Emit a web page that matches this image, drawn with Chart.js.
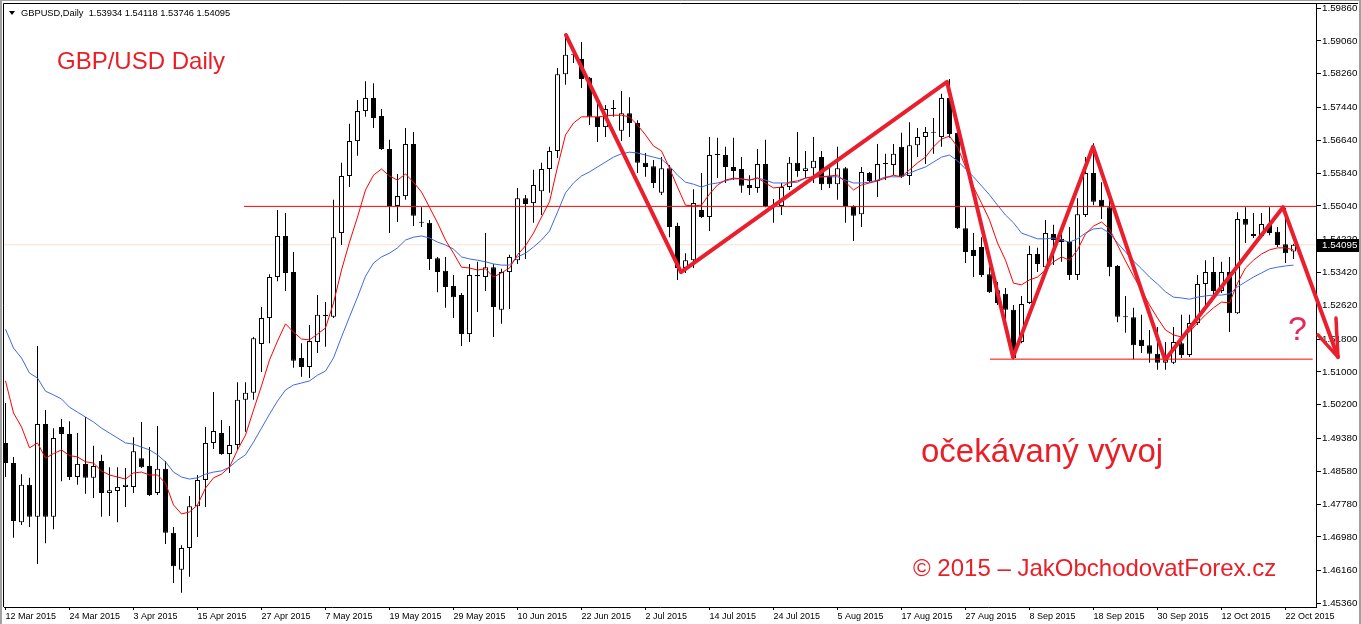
<!DOCTYPE html>
<html>
<head>
<meta charset="utf-8">
<title>GBPUSD Daily</title>
<script src="https://cdn.jsdelivr.net/npm/chart.js@4.4.1/dist/chart.umd.min.js"></script>
<style>
html,body{margin:0;padding:0;background:#fff;overflow:hidden;}
canvas{display:block;}
</style>
</head>
<body>
<canvas id="chart" width="1361" height="624"></canvas>
<script>
// ---------------- data ----------------
const symbolTitle = 'GBPUSD,Daily';
const headerValues = [1.53934, 1.54118, 1.53746, 1.54095];

const dateLabels = ['12 Mar 2015','24 Mar 2015','3 Apr 2015','15 Apr 2015','27 Apr 2015','7 May 2015',
  '19 May 2015','29 May 2015','10 Jun 2015','22 Jun 2015','2 Jul 2015','14 Jul 2015','24 Jul 2015',
  '5 Aug 2015','17 Aug 2015','27 Aug 2015','8 Sep 2015','18 Sep 2015','30 Sep 2015','12 Oct 2015','22 Oct 2015'];
const labelStep = 8; // one date label every 8 daily bars

const opens = [
  1.4927,1.4878,1.4734,1.4825,1.4747,1.4973,1.4747,1.4966,1.4949,1.4844,
  1.4876,1.4842,1.4883,1.4805,1.4810,1.4820,1.4820,1.4890,1.4871,1.4805,
  1.4864,1.4708,1.4618,1.4671,1.4773,1.4837,1.4927,1.4951,1.4900,1.4922,
  1.5032,1.5049,1.5168,1.5231,1.5331,1.5431,1.5343,1.5134,1.5112,1.5173,
  1.5236,1.5234,1.5438,1.5577,1.5662,1.5735,1.5767,1.5723,1.5643,1.5504,
  1.5528,1.5655,1.5465,1.5463,1.5377,1.5346,1.5309,1.5287,1.5192,1.5336,
  1.5331,1.5355,1.5251,1.5343,1.5372,1.5523,1.5511,1.5540,1.5594,1.5638,
  1.5825,1.5872,1.5862,1.5816,1.5721,1.5696,1.5740,1.5687,1.5730,1.5706,
  1.5609,1.5601,1.5536,1.5596,1.5455,1.5353,1.5372,1.5494,1.5477,1.5628,
  1.5628,1.5599,1.5594,1.5555,1.5548,1.5606,1.5506,1.5504,1.5550,1.5609,
  1.5589,1.5596,1.5623,1.5577,1.5557,1.5596,1.5504,1.5484,1.5584,1.5565,
  1.5606,1.5604,1.5648,1.5577,1.5652,1.5672,1.5684,1.5672,1.5767,1.5682,
  1.5450,1.5397,1.5404,1.5338,1.5299,1.5290,1.5251,1.5173,1.5268,1.5387,
  1.5355,1.5436,1.5424,1.5416,1.5336,1.5482,1.5584,1.5519,1.5501,1.5358,
  1.5234,1.5233,1.5178,1.5165,1.5144,1.5122,1.5122,1.5170,1.5141,1.5219,
  1.5314,1.5343,1.5297,1.5343,1.5243,1.5472,1.5436,1.5431,1.5460,1.5441,
  1.5411,1.53934];
const highs = [
  1.5024,1.4893,1.4851,1.4842,1.5163,1.5007,1.4963,1.4985,1.4980,1.4951,
  1.4990,1.4920,1.4898,1.4868,1.4868,1.4866,1.4941,1.4978,1.4917,1.4968,
  1.4883,1.4722,1.4678,1.4798,1.4849,1.4966,1.5051,1.4983,1.4968,1.5075,
  1.5075,1.5185,1.5258,1.5338,1.5494,1.5487,1.5392,1.5170,1.5214,1.5287,
  1.5270,1.5519,1.5609,1.5704,1.5762,1.5808,1.5803,1.5740,1.5665,1.5582,
  1.5694,1.5684,1.5501,1.5470,1.5380,1.5380,1.5336,1.5292,1.5363,1.5368,
  1.5438,1.5363,1.5351,1.5385,1.5548,1.5531,1.5592,1.5609,1.5648,1.5840,
  1.5920,1.5891,1.5903,1.5818,1.5764,1.5750,1.5762,1.5784,1.5769,1.5713,
  1.5633,1.5616,1.5623,1.5604,1.5463,1.5389,1.5545,1.5584,1.5672,1.5670,
  1.5648,1.5670,1.5623,1.5579,1.5643,1.5665,1.5521,1.5560,1.5623,1.5684,
  1.5638,1.5672,1.5638,1.5599,1.5648,1.5599,1.5506,1.5599,1.5587,1.5655,
  1.5631,1.5655,1.5682,1.5708,1.5694,1.5696,1.5718,1.5777,1.5813,1.5713,
  1.5501,1.5438,1.5428,1.5355,1.5319,1.5304,1.5263,1.5285,1.5407,1.5402,
  1.5470,1.5458,1.5453,1.5453,1.5523,1.5623,1.5657,1.5562,1.5519,1.5360,
  1.5285,1.5256,1.5239,1.5202,1.5209,1.5173,1.5209,1.5239,1.5239,1.5336,
  1.5372,1.5380,1.5368,1.5380,1.5489,1.5501,1.5487,1.5487,1.5501,1.5453,
  1.5499,1.54118];
const lows = [
  1.4844,1.4696,1.4727,1.4722,1.4632,1.4683,1.4717,1.4834,1.4837,1.4825,
  1.4803,1.4793,1.4747,1.4749,1.4734,1.4771,1.4805,1.4866,1.4798,1.4800,
  1.4681,1.4586,1.4562,1.4601,1.4698,1.4771,1.4912,1.4898,1.4854,1.4910,
  1.4954,1.5032,1.5100,1.5170,1.5321,1.5297,1.5110,1.5088,1.5085,1.5146,
  1.5161,1.5231,1.5409,1.5550,1.5626,1.5721,1.5694,1.5640,1.5438,1.5465,
  1.5519,1.5455,1.5453,1.5348,1.5294,1.5256,1.5231,1.5163,1.5173,1.5246,
  1.5297,1.5185,1.5217,1.5253,1.5363,1.5375,1.5463,1.5482,1.5536,1.5621,
  1.5799,1.5852,1.5791,1.5701,1.5660,1.5672,1.5721,1.5662,1.5672,1.5584,
  1.5575,1.5548,1.5531,1.5428,1.5324,1.5341,1.5353,1.5475,1.5443,1.5572,
  1.5560,1.5567,1.5536,1.5531,1.5536,1.5501,1.5463,1.5482,1.5543,1.5575,
  1.5572,1.5560,1.5543,1.5548,1.5519,1.5463,1.5419,1.5453,1.5562,1.5526,
  1.5567,1.5579,1.5572,1.5555,1.5623,1.5606,1.5631,1.5648,1.5670,1.5448,
  1.5365,1.5331,1.5331,1.5292,1.5263,1.5214,1.5131,1.5170,1.5265,1.5343,
  1.5343,1.5360,1.5368,1.5324,1.5324,1.5477,1.5506,1.5472,1.5333,1.5221,
  1.5195,1.5131,1.5146,1.5122,1.5105,1.5105,1.5119,1.5134,1.5136,1.5214,
  1.5258,1.5282,1.5292,1.5197,1.5241,1.5414,1.5426,1.5426,1.5433,1.5404,
  1.5365,1.53746];
const closes = [
  1.4878,1.4737,1.4825,1.4747,1.4973,1.4747,1.4939,1.4949,1.4844,1.4876,
  1.4842,1.4871,1.4805,1.4812,1.4820,1.4825,1.4907,1.4868,1.4800,1.4864,
  1.4708,1.4627,1.4671,1.4773,1.4837,1.4927,1.4956,1.4900,1.4922,1.5032,
  1.5049,1.5182,1.5231,1.5331,1.5431,1.5341,1.5127,1.5112,1.5175,1.5239,
  1.5239,1.5428,1.5577,1.5662,1.5735,1.5767,1.5718,1.5643,1.5504,1.5528,
  1.5655,1.5480,1.5463,1.5375,1.5343,1.5307,1.5282,1.5192,1.5336,1.5333,
  1.5355,1.5258,1.5343,1.5380,1.5523,1.5509,1.5555,1.5594,1.5638,1.5825,
  1.5872,1.5871,1.5813,1.5721,1.5696,1.5740,1.5742,1.5730,1.5706,1.5609,
  1.5599,1.5560,1.5596,1.5453,1.5353,1.5372,1.5511,1.5477,1.5628,1.5628,
  1.5599,1.5589,1.5553,1.5548,1.5606,1.5504,1.5504,1.5550,1.5609,1.5589,
  1.5596,1.5614,1.5557,1.5557,1.5596,1.5504,1.5480,1.5587,1.5565,1.5606,
  1.5607,1.5631,1.5575,1.5652,1.5672,1.5684,1.5682,1.5767,1.5679,1.5450,
  1.5392,1.5382,1.5336,1.5294,1.5268,1.5251,1.5134,1.5265,1.5387,1.5363,
  1.5438,1.5421,1.5416,1.5336,1.5484,1.5584,1.5514,1.5501,1.5355,1.5234,
  1.5233,1.5165,1.5163,1.5144,1.5122,1.5129,1.5173,1.5141,1.5219,1.5314,
  1.5343,1.5297,1.5343,1.5243,1.5472,1.5458,1.5431,1.5460,1.5438,1.5409,
  1.5389,1.54095];

// moving averages (red = fast, blue = slow)
const maRed = [
  1.5078,1.5000,1.4966,1.4915,1.4927,1.4890,1.4901,1.4910,1.4896,1.4893,
  1.4881,1.4878,1.4859,1.4849,1.4844,1.4839,1.4854,1.4856,1.4849,1.4849,
  1.4829,1.4776,1.4754,1.4759,1.4776,1.4817,1.4842,1.4851,1.4868,1.4910,
  1.4946,1.5007,1.5066,1.5129,1.5175,1.5217,1.5197,1.5180,1.5178,1.5192,
  1.5207,1.5268,1.5348,1.5416,1.5477,1.5543,1.5579,1.5594,1.5577,1.5567,
  1.5582,1.5562,1.5538,1.5501,1.5463,1.5421,1.5389,1.5355,1.5353,1.5348,
  1.5351,1.5331,1.5341,1.5353,1.5385,1.5407,1.5438,1.5477,1.5514,1.5599,
  1.5677,1.5706,1.5721,1.5721,1.5721,1.5723,1.5725,1.5725,1.5721,1.5701,
  1.5677,1.5650,1.5638,1.5596,1.5550,1.5506,1.5504,1.5506,1.5533,1.5555,
  1.5567,1.5572,1.5570,1.5567,1.5572,1.5560,1.5548,1.5550,1.5562,1.5565,
  1.5572,1.5575,1.5575,1.5577,1.5579,1.5562,1.5543,1.5555,1.5560,1.5565,
  1.5572,1.5579,1.5575,1.5592,1.5609,1.5623,1.5648,1.5667,1.5674,1.5648,
  1.5599,1.5550,1.5511,1.5470,1.5414,1.5372,1.5316,1.5312,1.5324,1.5331,
  1.5348,1.5368,1.5380,1.5372,1.5397,1.5436,1.5455,1.5465,1.5448,1.5409,
  1.5370,1.5333,1.5299,1.5263,1.5231,1.5202,1.5190,1.5185,1.5197,1.5219,
  1.5239,1.5256,1.5270,1.5268,1.5316,1.5353,1.5372,1.5387,1.5397,1.5402,
  1.5402,1.5397];
const maBlue = [
  1.5204,1.5158,1.5134,1.5097,1.5085,1.5053,1.5044,1.5034,1.5014,1.5002,
  1.4990,1.4978,1.4963,1.4951,1.4939,1.4927,1.4924,1.4917,1.4910,1.4898,
  1.4881,1.4856,1.4844,1.4839,1.4842,1.4851,1.4856,1.4859,1.4868,1.4885,
  1.4898,1.4929,1.4963,1.4997,1.5029,1.5056,1.5068,1.5073,1.5078,1.5092,
  1.5102,1.5134,1.5185,1.5234,1.5282,1.5333,1.5365,1.5380,1.5389,1.5402,
  1.5421,1.5428,1.5431,1.5426,1.5416,1.5409,1.5399,1.5380,1.5375,1.5372,
  1.5368,1.5363,1.5360,1.5360,1.5380,1.5389,1.5404,1.5421,1.5443,1.5489,
  1.5536,1.5560,1.5577,1.5587,1.5599,1.5611,1.5623,1.5631,1.5635,1.5633,
  1.5628,1.5623,1.5618,1.5601,1.5579,1.5562,1.5557,1.5550,1.5557,1.5560,
  1.5565,1.5570,1.5570,1.5567,1.5572,1.5567,1.5560,1.5560,1.5560,1.5562,
  1.5572,1.5575,1.5575,1.5575,1.5575,1.5567,1.5560,1.5560,1.5562,1.5567,
  1.5575,1.5575,1.5575,1.5584,1.5592,1.5599,1.5611,1.5623,1.5628,1.5614,
  1.5594,1.5575,1.5553,1.5531,1.5506,1.5482,1.5463,1.5438,1.5431,1.5424,
  1.5424,1.5426,1.5421,1.5416,1.5424,1.5438,1.5448,1.5450,1.5438,1.5414,
  1.5392,1.5370,1.5351,1.5331,1.5314,1.5295,1.5282,1.5280,1.5277,1.5282,
  1.5285,1.5287,1.5287,1.5290,1.5307,1.5319,1.5331,1.5341,1.5351,1.5355,
  1.5358,1.5360];

// hand-drawn analysis (bar index, price)
const zigzagX = [70.06, 84.44, 117.69, 125.94, 135.94, 144.94, 159.69, 166.56];
const zigzagY = [1.5920, 1.5343, 1.5806, 1.5136, 1.5648, 1.5129, 1.5501, 1.5136];
const arrowHeadX = [164.06, 166.56, 166.31];
const arrowHeadY = [1.5190, 1.5136, 1.5231];
const resistanceLevel = 1.5503, resistanceFrom = 29.8;
const supportLevel = 1.5131, supportFrom = 123.06, supportTo = 163.4;
const lastPrice = 1.54095;

const yTicks = [1.5986,1.5906,1.5826,1.5744,1.5664,1.5584,1.5504,1.5422,1.5342,1.5262,
  1.5180,1.5100,1.5020,1.4938,1.4858,1.4778,1.4698,1.4616,1.4536];

const notes = [
  {text:'GBP/USD Daily', x:6.44, y:1.58375},
  {text:'očekávaný vývoj', x:114.44, y:1.48806},
  {text:'© 2015 – JakObchodovatForex.cz', x:113.44, y:1.46030},
  {text:'?', x:160.31, y:1.51776}
];

// ---------------- view / style ----------------
const X_MIN = -0.1875, X_MAX = 163.8125;
const Y_MIN = 1.45275, Y_MAX = 1.59958;
const X_TICK_FONT = {family: '"Liberation Sans", Arial, sans-serif', size: 9};
const Y_TICK_FONT = {family: '"Liberation Sans", Arial, sans-serif', size: 9.8};
const noteStyles = [
  {font:'24px "Liberation Sans", Arial, sans-serif', color:'#e91e27'},
  {font:'33px "Liberation Sans", Arial, sans-serif', color:'#e91e27'},
  {font:'24px "Liberation Sans", Arial, sans-serif', color:'#e91e27'},
  {font:'34px "Liberation Sans Narrow", "Liberation Sans", Arial, sans-serif', color:'#e32a5c'}
];

const idx = opens.map((_, i) => i);
const bull = opens.map((o, i) => closes[i] >= o);
const wickData = idx.map(i => ({x: i, y: [lows[i], highs[i]]}));
const bodyData = idx.map(i => ({x: i, y: [Math.min(opens[i], closes[i]), Math.max(opens[i], closes[i])]}));
const bodyFill = bull.map(b => b ? '#ffffff' : '#000000');
const toXY = (xs, ys) => xs.map((x, k) => ({x, y: ys[k]}));

const overlay = {
  id: 'overlay',
  beforeDraw(chart) {
    const ctx = chart.ctx;
    ctx.save();
    ctx.fillStyle = '#fff';
    ctx.fillRect(0, 0, chart.width, chart.height);
    ctx.restore();
  },
  afterDraw(chart) {
    const {ctx, chartArea: a, scales: {x, y}} = chart;
    ctx.save();
    // frame
    ctx.strokeStyle = '#000';
    ctx.lineWidth = 1;
    ctx.beginPath();
    ctx.moveTo(a.left - 0.5, a.bottom);
    ctx.lineTo(a.left - 0.5, a.top - 0.5);
    ctx.lineTo(chart.width - 3, a.top - 0.5);
    ctx.stroke();
    // window edges
    ctx.fillStyle = '#a0a0a0';
    ctx.fillRect(0, 0, 2, chart.height);
    ctx.fillRect(0, 0, chart.width, 1);
    ctx.fillRect(chart.width - 2, 0, 2, chart.height);
    // header
    ctx.fillStyle = '#000';
    ctx.beginPath();
    ctx.moveTo(9, 11); ctx.lineTo(15, 11); ctx.lineTo(12, 15); ctx.closePath(); ctx.fill();
    ctx.font = '9.3px "Liberation Sans", Arial, sans-serif';
    ctx.textBaseline = 'middle';
    ctx.textAlign = 'left';
    ctx.fillText(symbolTitle + '  ' + headerValues.map(v => v.toFixed(5)).join(' '), 21, 13.5);
    // notes
    ctx.textBaseline = 'alphabetic';
    notes.forEach((n, k) => {
      ctx.font = noteStyles[k].font;
      ctx.fillStyle = noteStyles[k].color;
      ctx.fillText(n.text, x.getPixelForValue(n.x), y.getPixelForValue(n.y));
    });
    // current price box
    const py = Math.round(y.getPixelForValue(lastPrice));
    ctx.fillStyle = '#000';
    ctx.fillRect(a.right + 1, py - 6, 42, 13);
    ctx.fillStyle = '#fff';
    ctx.font = '9.8px "Liberation Sans", Arial, sans-serif';
    ctx.textBaseline = 'middle';
    ctx.fillText(lastPrice.toFixed(5), a.right + 6, py + 0.5);
    ctx.restore();
  }
};

new Chart(document.getElementById('chart'), {
  type: 'bar',
  data: {
    datasets: [
      {type:'line', data:[{x:X_MIN, y:lastPrice},{x:X_MAX, y:lastPrice}], borderColor:'#f7e3d2', borderWidth:1, pointRadius:0, order:20},
      {label:'wicks', data: wickData, backgroundColor:'#000', borderWidth:0, barThickness:1, grouped:false, inflateAmount:0, order:12},
      {label:'bodies', data: bodyData, backgroundColor: bodyFill, borderColor:'#000', borderWidth:1, borderSkipped:false, barThickness:5, minBarLength:1, grouped:false, inflateAmount:0, order:11},
      {type:'line', label:'MA slow', data: toXY(idx, maBlue), borderColor:'#4169e1', borderWidth:1, pointRadius:0, tension:0, order:6},
      {type:'line', label:'MA fast', data: toXY(idx, maRed), borderColor:'#ff0000', borderWidth:1, pointRadius:0, tension:0, order:5},
      {type:'line', data:[{x:resistanceFrom, y:resistanceLevel},{x:X_MAX, y:resistanceLevel}], borderColor:'#ff0000', borderWidth:1, pointRadius:0, order:4},
      {type:'line', data:[{x:supportFrom, y:supportLevel},{x:supportTo, y:supportLevel}], borderColor:'#ff0000', borderWidth:1, pointRadius:0, order:4},
      {type:'line', data: toXY(zigzagX, zigzagY), borderColor:'#eb1e2d', borderWidth:4, pointRadius:0, tension:0, borderJoinStyle:'round', borderCapStyle:'round', clip:false, order:1},
      {type:'line', data: toXY(arrowHeadX, arrowHeadY), borderColor:'#eb1e2d', borderWidth:3.5, pointRadius:0, tension:0, borderJoinStyle:'round', borderCapStyle:'round', clip:false, order:1}
    ]
  },
  options: {
    responsive: false,
    devicePixelRatio: 1,
    animation: false,
    events: [],
    layout: {padding: {left: 4, top: 4, right: 0, bottom: 0}},
    plugins: {legend: {display: false}, tooltip: {enabled: false}},
    scales: {
      x: {
        type: 'linear', min: X_MIN, max: X_MAX, offset: false,
        afterBuildTicks: ax => { ax.ticks = dateLabels.map((d, k) => ({value: k * labelStep})); },
        afterFit: ax => { ax.height = 17; ax.paddingLeft = 0; ax.paddingRight = 0; },
        ticks: {autoSkip: false, maxRotation: 0, minRotation: 0, align: 'start', padding: 1, color: '#000', font: X_TICK_FONT,
          callback: (v, k) => dateLabels[k]},
        grid: {drawOnChartArea: false, offset: false, tickLength: 3, color: '#000'},
        border: {display: true, color: '#000'}
      },
      y: {
        type: 'linear', position: 'right', min: Y_MIN, max: Y_MAX,
        afterBuildTicks: ax => { ax.ticks = yTicks.map(v => ({value: v})); },
        afterFit: ax => { ax.width = 45; ax.paddingTop = 0; ax.paddingBottom = 0; },
        ticks: {autoSkip: false, padding: 1, color: '#000', font: Y_TICK_FONT, crossAlign: 'near',
          callback: v => v.toFixed(5)},
        grid: {drawOnChartArea: false, tickLength: 5, color: '#000'},
        border: {display: true, color: '#000'}
      }
    }
  },
  plugins: [overlay]
});
</script>
</body>
</html>
